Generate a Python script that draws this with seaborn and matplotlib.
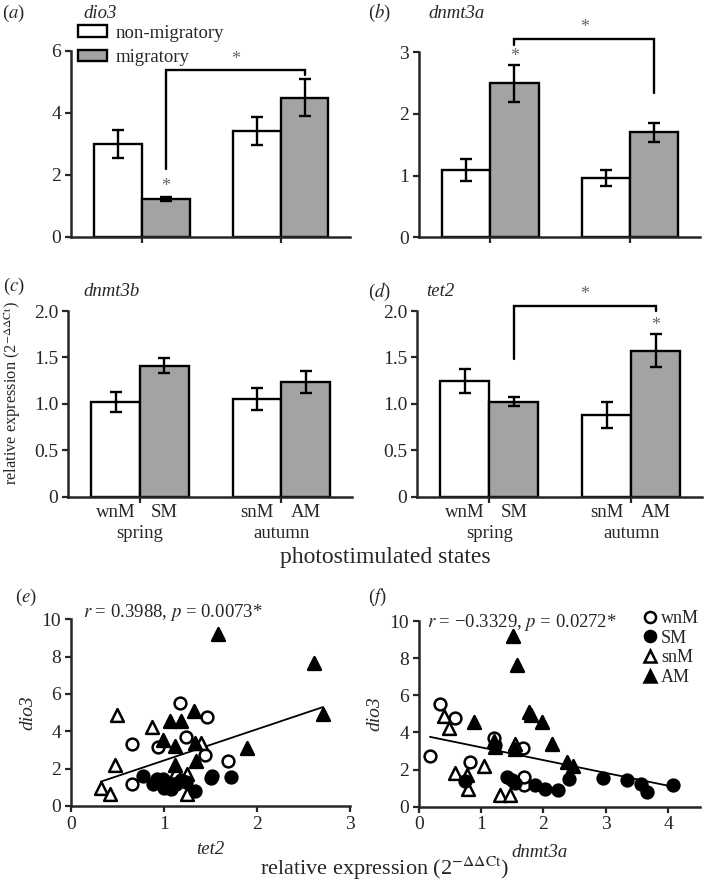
import numpy as np
import pandas as pd
import matplotlib
matplotlib.use("Agg")
import matplotlib.pyplot as plt
import seaborn as sns
from matplotlib.patches import Patch
from matplotlib.lines import Line2D

sns.set_style("ticks")
plt.rcParams["font.family"] = ["Liberation Serif", "DejaVu Serif"]
plt.rcParams["mathtext.fontset"] = "stix"


# bar data (order: wnM, SM, snM, AM)

bar_labels = ["wnM", "SM", "snM", "AM"]
seasons = ["spring", "spring", "autumn", "autumn"]
states = ["non-migratory", "migratory", "non-migratory", "migratory"]

dio3_mean = [2.98, 1.22, 3.41, 4.49]
dio3_se = [0.45, 0.06, 0.45, 0.61]

dnmt3a_mean = [1.09, 2.50, 0.96, 1.70]
dnmt3a_se = [0.18, 0.30, 0.13, 0.15]

dnmt3b_mean = [1.02, 1.41, 1.05, 1.235]
dnmt3b_se = [0.11, 0.08, 0.12, 0.115]

tet2_mean = [1.246, 1.023, 0.88, 1.573]
tet2_se = [0.13, 0.05, 0.135, 0.18]


# individual birds for the correlations

wnM_dio3 = [5.53, 4.75, 3.30, 3.18, 3.71, 2.73, 2.43, 1.18, 1.62]
wnM_tet2 = [1.175, 1.46, 0.655, 0.94, 1.24, 1.44, 1.69, 0.655, 1.52]
wnM_dnmt3a = [0.34, 0.59, 1.22, 1.67, 1.21, 0.18, 0.82, 1.69, 1.69]

SM_dio3 = [1.40, 1.62, 1.45, 1.26, 1.17, 0.94, 0.90, 1.49, 1.53, 1.44, 1.20, 0.78, 1.17]
SM_tet2 = [1.18, 0.77, 0.99, 1.24, 0.88, 1.00, 1.07, 1.50, 1.72, 0.93, 1.13, 1.33, 1.10]
SM_dnmt3a = [0.75, 1.41, 1.50, 1.54, 1.87, 2.03, 2.23, 2.41, 2.95, 3.34, 3.57, 3.66, 4.08]

snM_dio3 = [4.87, 4.25, 3.39, 2.20, 1.84, 1.70, 0.98, 0.64, 0.64]
snM_tet2 = [0.495, 0.87, 1.40, 0.47, 1.13, 1.25, 0.32, 0.42, 1.25]
snM_dnmt3a = [0.41, 0.49, 1.55, 1.04, 0.59, 0.78, 0.79, 1.30, 1.46]

AM_dio3 = [9.21, 7.64, 5.09, 4.93, 4.57, 4.57, 3.54, 3.36, 3.21, 3.09, 2.41, 2.20]
AM_tet2 = [1.585, 2.61, 1.32, 2.71, 1.06, 1.18, 0.99, 1.33, 1.12, 1.89, 1.34, 1.12]
AM_dnmt3a = [1.51, 1.57, 1.77, 1.80, 0.88, 1.98, 1.20, 2.14, 1.22, 1.55, 2.38, 2.48]


W, H = 704, 881
fig = plt.figure(figsize=(W / 100, H / 100), dpi=100)


def add_ax(l, t, r, b):
    return fig.add_axes([l / W, 1 - b / H, (r - l) / W, (b - t) / H])


def style_ax(ax):
    sns.despine(ax=ax)
    for s in ["left", "bottom"]:
        ax.spines[s].set_linewidth(1.8)
    ax.tick_params(direction="out", length=4, width=1.6, labelsize=14, pad=3)


def bar_panel(ax, means, ses, ylim, yticks, yticklabels):
    df = pd.DataFrame({"season": seasons, "state": states, "value": means})
    sns.barplot(
        data=df, x="season", y="value", hue="state",
        order=["spring", "autumn"], hue_order=["non-migratory", "migratory"],
        palette=["white", "#a3a3a3"], saturation=1, width=0.69,
        edgecolor="black", linewidth=1.7, errorbar=None, legend=False, ax=ax
    )
    centers = {}
    for hue_i, cont in enumerate(ax.containers):
        for season_i, bar in enumerate(cont):
            lab = bar_labels[season_i * 2 + hue_i]
            centers[lab] = bar.get_x() + bar.get_width() / 2
    xs = [centers[l] for l in bar_labels]
    ax.errorbar(xs, means, yerr=ses, fmt="none", ecolor="black",
                elinewidth=1.7, capsize=4.5, capthick=1.7, zorder=5)
    ax.set_xlim(-0.51, 1.5)
    ax.set_ylim(*ylim)
    ax.set_yticks(yticks)
    ax.set_yticklabels(yticklabels)
    ax.set_xlabel("")
    ax.set_ylabel("")
    style_ax(ax)
    return centers


def star(ax, x, y):
    ax.text(x, y, "*", ha="center", va="center", fontsize=13, color="0.4", clip_on=False)


def bracket(ax, x1, x2, y_left, y_top, y_right, y_star):
    ax.plot([x1, x1, x2, x2], [y_left, y_top, y_top, y_right], color="black",
            lw=1.7, clip_on=False, solid_joinstyle="miter")
    star(ax, (x1 + x2) / 2, y_star)


# (a) dio3
ax_a = add_ax(71, 50.7, 350, 236.7)
c = bar_panel(ax_a, dio3_mean, dio3_se, (0, 6), [0, 2, 4, 6], ["0", "2", "4", "6"])
ax_a.set_xticks([0, 1])
ax_a.set_xticklabels([])
bracket(ax_a, c["SM"], c["AM"], 2.17, 5.38, 5.22, 5.72)
star(ax_a, c["SM"], 1.62)
ax_a.legend(
    handles=[Patch(facecolor="white", edgecolor="black", linewidth=1.7, label="non-migratory"),
             Patch(facecolor="#a3a3a3", edgecolor="black", linewidth=1.7, label="migratory")],
    loc="upper left", bbox_to_anchor=(0.025, 1.14), frameon=False, fontsize=13.5,
    handlelength=1.55, handleheight=0.55, labelspacing=0.4, handletextpad=0.45,
    borderpad=0, borderaxespad=0
)

# (b) dnmt3a
ax_b = add_ax(419, 52.3, 700, 237.3)
c = bar_panel(ax_b, dnmt3a_mean, dnmt3a_se, (0, 3), [0, 1, 2, 3], ["0", "1", "2", "3"])
ax_b.set_xticks([0, 1])
ax_b.set_xticklabels([])
bracket(ax_b, c["SM"], c["AM"], 3.12, 3.21, 2.34, 3.40)
star(ax_b, c["SM"], 2.93)

# (c) dnmt3b, (d) tet2
half_ticks = [0, 0.5, 1.0, 1.5, 2.0]
half_labels = ["0", "0.5", "1.0", "1.5", "2.0"]

ax_c = add_ax(68, 311, 352, 496.7)
c_c = bar_panel(ax_c, dnmt3b_mean, dnmt3b_se, (0, 2), half_ticks, half_labels)

ax_d = add_ax(417, 311, 702, 496.7)
c_d = bar_panel(ax_d, tet2_mean, tet2_se, (0, 2), half_ticks, half_labels)
bracket(ax_d, c_d["SM"], c_d["AM"], 1.48, 2.05, 2.0, 2.18)
star(ax_d, c_d["AM"], 1.84)

for ax, cc in [(ax_c, c_c), (ax_d, c_d)]:
    ax.set_xticks([0, 1])
    ax.set_xticklabels(["spring", "autumn"])
    ax.set_xticks([cc[l] for l in bar_labels], minor=True)
    ax.set_xticklabels(bar_labels, minor=True)
    ax.tick_params(axis="x", which="minor", length=0, pad=5.5, labelsize=13.5)
    ax.tick_params(axis="x", which="major", pad=16.5, labelsize=13.5)


# scatter panels
groups = [
    ("wnM", wnM_dio3, wnM_tet2, wnM_dnmt3a, "o", "white"),
    ("snM", snM_dio3, snM_tet2, snM_dnmt3a, "^", "white"),
    ("SM", SM_dio3, SM_tet2, SM_dnmt3a, "o", "black"),
    ("AM", AM_dio3, AM_tet2, AM_dnmt3a, "^", "black"),
]


def scatter_panel(ax, which, xlim, xticks):
    all_x, all_y = [], []
    for name, d3, t2, d3a, mk, face in groups:
        xv = t2 if which == "tet2" else d3a
        sns.scatterplot(x=xv, y=d3, marker=mk, color=face, edgecolor="black",
                        linewidth=1.8, s=72 if mk == "o" else 85, ax=ax, zorder=3)
        all_x += xv
        all_y += d3
    sns.regplot(x=np.array(all_x), y=np.array(all_y), scatter=False, ci=None,
                color="black", line_kws={"lw": 1.3}, ax=ax)
    ax.set_xlim(*xlim)
    ax.set_ylim(0, 10)
    ax.set_xticks(xticks)
    ax.set_yticks([0, 2, 4, 6, 8, 10])
    ax.set_ylabel("dio3", fontstyle="italic", fontsize=14, labelpad=4)
    ax.set_xlabel(which, fontstyle="italic", fontsize=13.5, labelpad=6)
    style_ax(ax)


ax_e = add_ax(71, 619.3, 350, 806)
scatter_panel(ax_e, "tet2", (0, 3), [0, 1, 2, 3])
ax_e.text(0.043, 1.035, "$r$ = 0.3988, $p$ = 0.0073*", transform=ax_e.transAxes,
          fontsize=13.5, va="center", ha="left")

ax_f = add_ax(418.7, 621, 700, 806.7)
scatter_panel(ax_f, "dnmt3a", (0, 4.51), [0, 1, 2, 3, 4])
ax_f.xaxis.set_label_coords(0.43, -0.2)
ax_f.text(0.03, 0.99, "$r$ = \u22120.3329, $p$ = 0.0272*", transform=ax_f.transAxes,
          fontsize=13.5, va="center", ha="left")

leg_handles = [
    Line2D([], [], ls="", marker="o", mfc="white", mec="black", mew=1.8, ms=8, label="wnM"),
    Line2D([], [], ls="", marker="o", mfc="black", mec="black", mew=1.8, ms=8, label="SM"),
    Line2D([], [], ls="", marker="^", mfc="white", mec="black", mew=1.8, ms=8.5, label="snM"),
    Line2D([], [], ls="", marker="^", mfc="black", mec="black", mew=1.8, ms=8.5, label="AM"),
]
ax_f.legend(handles=leg_handles, loc="upper left", bbox_to_anchor=(0.8, 1.06),
            frameon=False, fontsize=13, handlelength=0.7, handletextpad=0.25,
            labelspacing=0.15, borderpad=0, borderaxespad=0)


# panel letters and gene names
def ftext(x, y, s, **kw):
    fig.text(x / W, 1 - y / H, s, va="center", ha="left", **kw)


ftext(2, 13, "($a$)", fontsize=13.5)
ftext(83, 13, "dio3", fontsize=13.5, fontstyle="italic")
ftext(368, 13, "($b$)", fontsize=13.5)
ftext(428, 13, "dnmt3a", fontsize=13.5, fontstyle="italic")
ftext(3, 286, "($c$)", fontsize=13.5)
ftext(83, 292, "dnmt3b", fontsize=13.5, fontstyle="italic")
ftext(368, 292, "($d$)", fontsize=13.5)
ftext(426, 292, "tet2", fontsize=13.5, fontstyle="italic")
ftext(15, 597, "($e$)", fontsize=13.5)
ftext(368, 597, "($f$)", fontsize=13.5)

fig.text(13 / W, 1 - 393 / H, r"relative expression (2$^{-\Delta\Delta\mathrm{Ct}}$)",
         rotation=90, ha="center", va="center", fontsize=11.8)
fig.text(385 / W, 1 - 557 / H, "photostimulated states", ha="center", va="center", fontsize=17)
fig.text(385 / W, 1 - 868 / H, r"relative expression (2$^{-\Delta\Delta\mathrm{Ct}}$)",
         ha="center", va="center", fontsize=16)

fig.savefig("out.png", dpi=100)
